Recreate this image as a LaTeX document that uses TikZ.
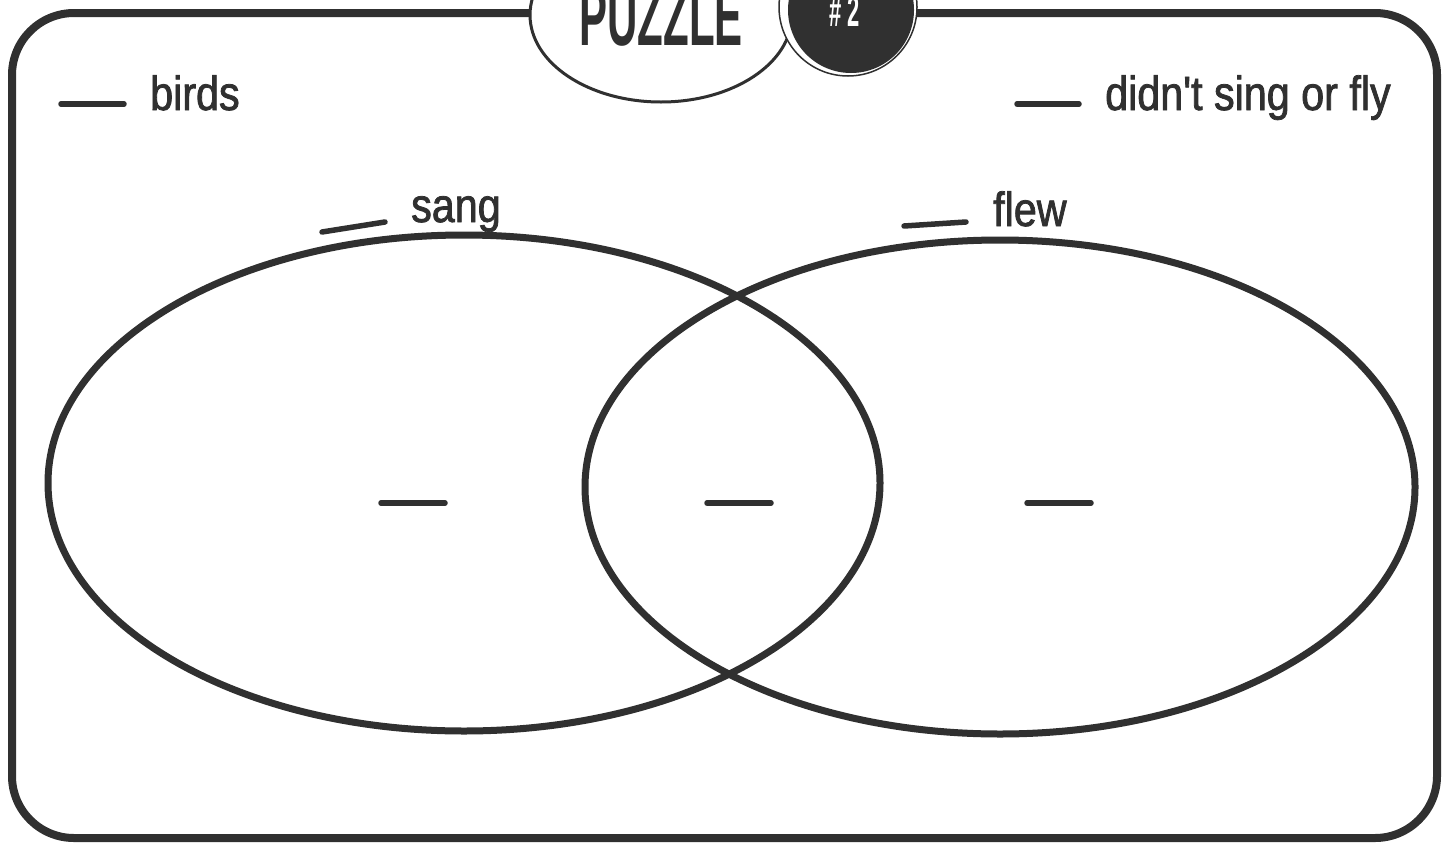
\documentclass[tikz,border=0pt]{standalone}
\usepackage{fontspec}
\setmainfont{Liberation Sans}[FakeStretch=0.86, FakeBold=1.6, Ligatures=TeXOff]
\newfontfamily\titlefont{Liberation Sans Bold}[FakeStretch=0.5]
\definecolor{ink}{HTML}{303030}
\tikzset{
  frame/.style={draw=ink, line width=8pt},
  setline/.style={draw=ink, line width=7pt},
  thinline/.style={draw=ink, line width=3pt},
  blank/.style={draw=ink, line width=5.5pt, line cap=round},
  lbl/.style={font=\fontsize{48}{50}\selectfont, text=ink, inner sep=0pt, anchor=base west},
}
\begin{document}
\begin{tikzpicture}[x=1pt,y=-1pt]
\useasboundingbox (0,0) rectangle (1445,846);
\fill[white] (0,0) rectangle (1445,846);
% frame
\draw[frame, rounded corners=62pt] (560,13) -- (12,13) -- (12,838) -- (1437,838) -- (1437,13) -- (880,13);
% title ellipse
\draw[thinline, fill=white] (661,15) ellipse [x radius=131, y radius=87];
\node[font=\titlefont\fontsize{84}{84}\selectfont, text=ink, inner sep=0pt, anchor=base] (title) at (661,45) {PUZZLE};
% number badge
\draw[draw=ink, line width=1.5pt, fill=white] (848,7) circle [radius=69];
\fill[ink] (851,10) circle [radius=63];
\node[font=\titlefont\fontsize{44}{44}\selectfont, text=white, inner sep=0pt, anchor=base] (num) at (845,26) {\#\hspace{6pt}2};
% venn sets
\draw[setline] (464,483) ellipse [x radius=416, y radius=248];
\draw[setline] (1000,487) ellipse [x radius=415, y radius=247];
% labels
\draw[blank] (61,104) -- (124,104);
\node[lbl] (birds) at (150,110) {birds};
\draw[blank] (1017,104) -- (1079,104);
\node[lbl] (none) at (1105,110) {didn't sing or fly};
\draw[blank] (322,232) -- (385,222);
\node[lbl] (sang) at (411,222) {sang};
\draw[blank] (904,226) -- (966,222);
\node[lbl] (flew) at (993,226) {flew};
% blanks inside regions
\draw[blank] (381,503) -- (445,503);
\draw[blank] (707,503) -- (771,503);
\draw[blank] (1027,503) -- (1091,503);
\end{tikzpicture}
\end{document}
